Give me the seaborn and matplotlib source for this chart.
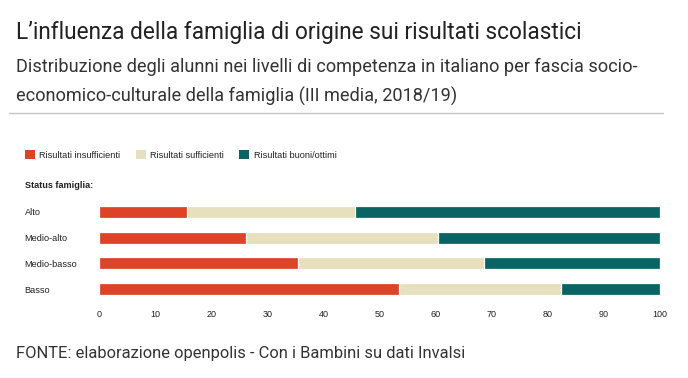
import matplotlib
matplotlib.use("Agg")
import matplotlib.pyplot as plt
from matplotlib import font_manager
from matplotlib.patches import Patch
from matplotlib.lines import Line2D
import seaborn as sns
import pandas as pd
import numpy as np

# ---- data ----
status = ["Alto", "Medio-alto", "Medio-basso", "Basso"]
insufficienti = [15.7, 26.2, 35.4, 53.5]
sufficienti = [30.0, 34.3, 33.3, 28.9]
buoni = [54.3, 39.5, 31.3, 17.6]
series_labels = ["Risultati insufficienti", "Risultati sufficienti", "Risultati buoni/ottimi"]
xticks = [0, 10, 20, 30, 40, 50, 60, 70, 80, 90, 100]

colors = ["#DD4326", "#E6E0BE", "#0B6464"]

sns.set_theme(style="white")

def pick(fams):
    for f in fams:
        try:
            font_manager.findfont(font_manager.FontProperties(family=f), fallback_to_default=False)
            return f
        except Exception:
            continue
    return "DejaVu Sans"

chart_font = pick(["Liberation Sans Narrow", "Liberation Sans", "Arial"])
head_font = pick(["Roboto", "Open Sans", "DejaVu Sans"])
plt.rcParams["font.family"] = [chart_font, "DejaVu Sans"]

W, H = 688, 378
fig = plt.figure(figsize=(W / 100, H / 100), dpi=100)
fig.patch.set_facecolor("white")

ax = fig.add_axes([99 / W, 1 - 302 / H, 561 / W, 103 / H])

df = pd.DataFrame({
    "status": status,
    "ins": insufficienti,
    "suf": sufficienti,
    "buo": buoni,
})
df["c1"] = df["ins"]
df["c2"] = df["ins"] + df["suf"]
df["c3"] = df["ins"] + df["suf"] + df["buo"]

for col, c in zip(["c3", "c2", "c1"], colors[::-1]):
    sns.barplot(data=df, x=col, y="status", order=status, orient="h", color=c,
                width=0.47, edgecolor="white", linewidth=0.9, saturation=1,
                ax=ax, errorbar=None)

fs = 6.6
ax.set_xlim(0, 100)
ax.set_ylim(3.5, -0.5)
ax.set_xticks(xticks)
ax.set_xticklabels([str(t) for t in xticks], fontsize=6.5, color="#222222")
ax.tick_params(axis="x", length=0, pad=6)
ax.tick_params(axis="y", length=0, pad=53.5)
for lab in ax.get_yticklabels():
    lab.set_horizontalalignment("left")
    lab.set_fontsize(fs)
    lab.set_color("#222222")
ax.set_xlabel("")
ax.set_ylabel("")
for s in ax.spines.values():
    s.set_visible(False)
ax.grid(False)

handles = [Patch(facecolor=c, edgecolor="none", label=l) for c, l in zip(colors, series_labels)]
fig.legend(handles=handles, loc="center left", bbox_to_anchor=(25 / W, 1 - 155 / H),
           ncol=3, frameon=False, fontsize=fs, handlelength=1.09, handleheight=1.09,
           handletextpad=0.49, columnspacing=1.65, borderpad=0, borderaxespad=0,
           labelcolor="#222222")

fig.text(25 / W, 1 - 185 / H, "Status famiglia:", fontsize=fs, fontweight="bold",
         color="#222222", va="center", ha="left")

# header / footer
fig.text(16 / W, 1 - 39 / H, "L\u2019influenza della famiglia di origine sui risultati scolastici",
         fontsize=16.3, family=head_font, color="#222222", va="baseline", ha="left")
fig.text(16 / W, 1 - 72 / H,
         "Distribuzione degli alunni nei livelli di competenza in italiano per fascia socio-",
         fontsize=13.1, family=head_font, color="#333333", va="baseline", ha="left")
fig.text(16 / W, 1 - 102 / H, "economico-culturale della famiglia (III media, 2018/19)",
         fontsize=13.1, family=head_font, color="#333333", va="baseline", ha="left")
fig.add_artist(Line2D([9 / W, 663 / W], [1 - 113 / H, 1 - 113 / H], color="#c4c4c4", lw=1))
fig.text(16 / W, 1 - 358 / H, "FONTE: elaborazione openpolis - Con i Bambini su dati Invalsi",
         fontsize=11.85, family=head_font, color="#333333", va="baseline", ha="left")

fig.savefig("out.png", dpi=100, facecolor="white")
